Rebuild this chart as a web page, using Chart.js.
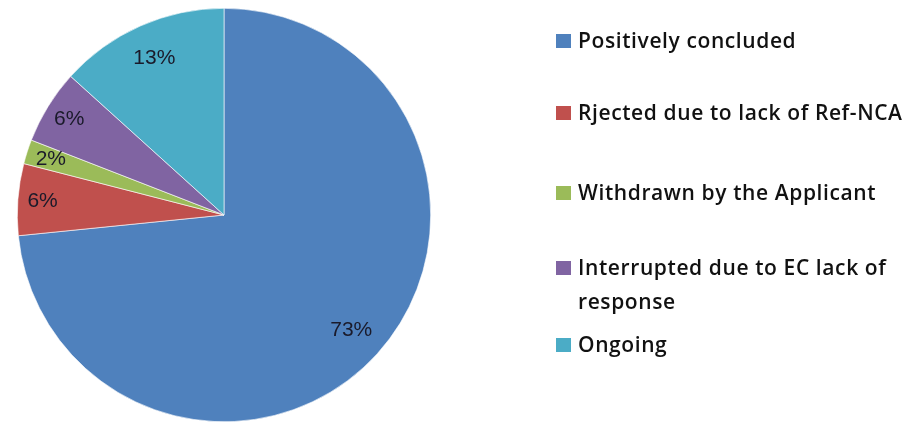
<!DOCTYPE html>
<html>
<head>
<meta charset="utf-8">
<script src="https://cdn.jsdelivr.net/npm/chart.js@4"></script>
<style>
  html, body { margin: 0; padding: 0; background: #fff; }
  #wrap { position: relative; width: 922px; height: 422px; overflow: hidden; }
  #pie { position: absolute; left: 0; top: 0; }
  #legend { position: absolute; left: 556px; top: 0; width: 366px; }
  .item { position: absolute; left: 0; display: flex; align-items: flex-start;
          font-family: "Open Sans", "Liberation Sans", sans-serif; font-weight: 600; font-size: 21px;
          letter-spacing: 0.6px; color: #111; line-height: 34px; width: 350px; }
  .sw { width: 15px; height: 14px; margin-top: 11px; margin-right: 7px; flex: none; }
</style>
</head>
<body>
<div id="wrap">
  <canvas id="pie" width="922" height="422"></canvas>
  <div id="legend"></div>
</div>
<script>
const categories = [
  "Positively concluded",
  "Rjected due to lack of Ref-NCA",
  "Withdrawn by the Applicant",
  "Interrupted due to EC lack of response",
  "Ongoing"
];
const shares = [73.4, 5.6, 1.9, 5.8, 13.3];
const colors = ["#4F81BD", "#C0504D", "#9BBB59", "#8064A2", "#4BACC6"];

// legend rows (top of each row, px)
const legendTop = [23, 95, 175, 250, 327];

const legend = document.getElementById("legend");
categories.forEach((name, i) => {
  const row = document.createElement("div");
  row.className = "item";
  row.style.top = legendTop[i] + "px";
  const sw = document.createElement("span");
  sw.className = "sw";
  sw.style.background = colors[i];
  const txt = document.createElement("span");
  txt.textContent = name;
  row.appendChild(sw);
  row.appendChild(txt);
  legend.appendChild(row);
});

const pctLabels = {
  id: "pctLabels",
  afterDatasetsDraw(chart) {
    const ctx = chart.ctx;
    const meta = chart.getDatasetMeta(0);
    const total = shares.reduce((a, b) => a + b, 0);
    ctx.save();
    ctx.font = "21px 'Liberation Sans', sans-serif";
    ctx.fillStyle = "#1a1a2a";
    ctx.textAlign = "center";
    ctx.textBaseline = "middle";
    meta.data.forEach((arc, i) => {
      const p = arc.getProps(["x", "y", "startAngle", "endAngle", "outerRadius"], true);
      const mid = (p.startAngle + p.endAngle) / 2;
      const f = shares[i] < 10 ? 0.88 : 0.83;
      const x = p.x + Math.cos(mid) * p.outerRadius * f;
      const y = p.y + Math.sin(mid) * p.outerRadius * f;
      ctx.fillText(Math.round(shares[i] / total * 100) + "%", x, y);
    });
    ctx.restore();
  }
};

new Chart(document.getElementById("pie"), {
  type: "pie",
  data: {
    labels: categories,
    datasets: [{
      data: shares,
      backgroundColor: colors,
      borderColor: "#ffffff",
      borderWidth: 0.6
    }]
  },
  options: {
    responsive: false,
    animation: false,
    layout: { padding: { left: 17, top: 8, right: 491, bottom: 0 } },
    plugins: {
      legend: { display: false },
      tooltip: { enabled: false }
    }
  },
  plugins: [pctLabels]
});
</script>
</body>
</html>
